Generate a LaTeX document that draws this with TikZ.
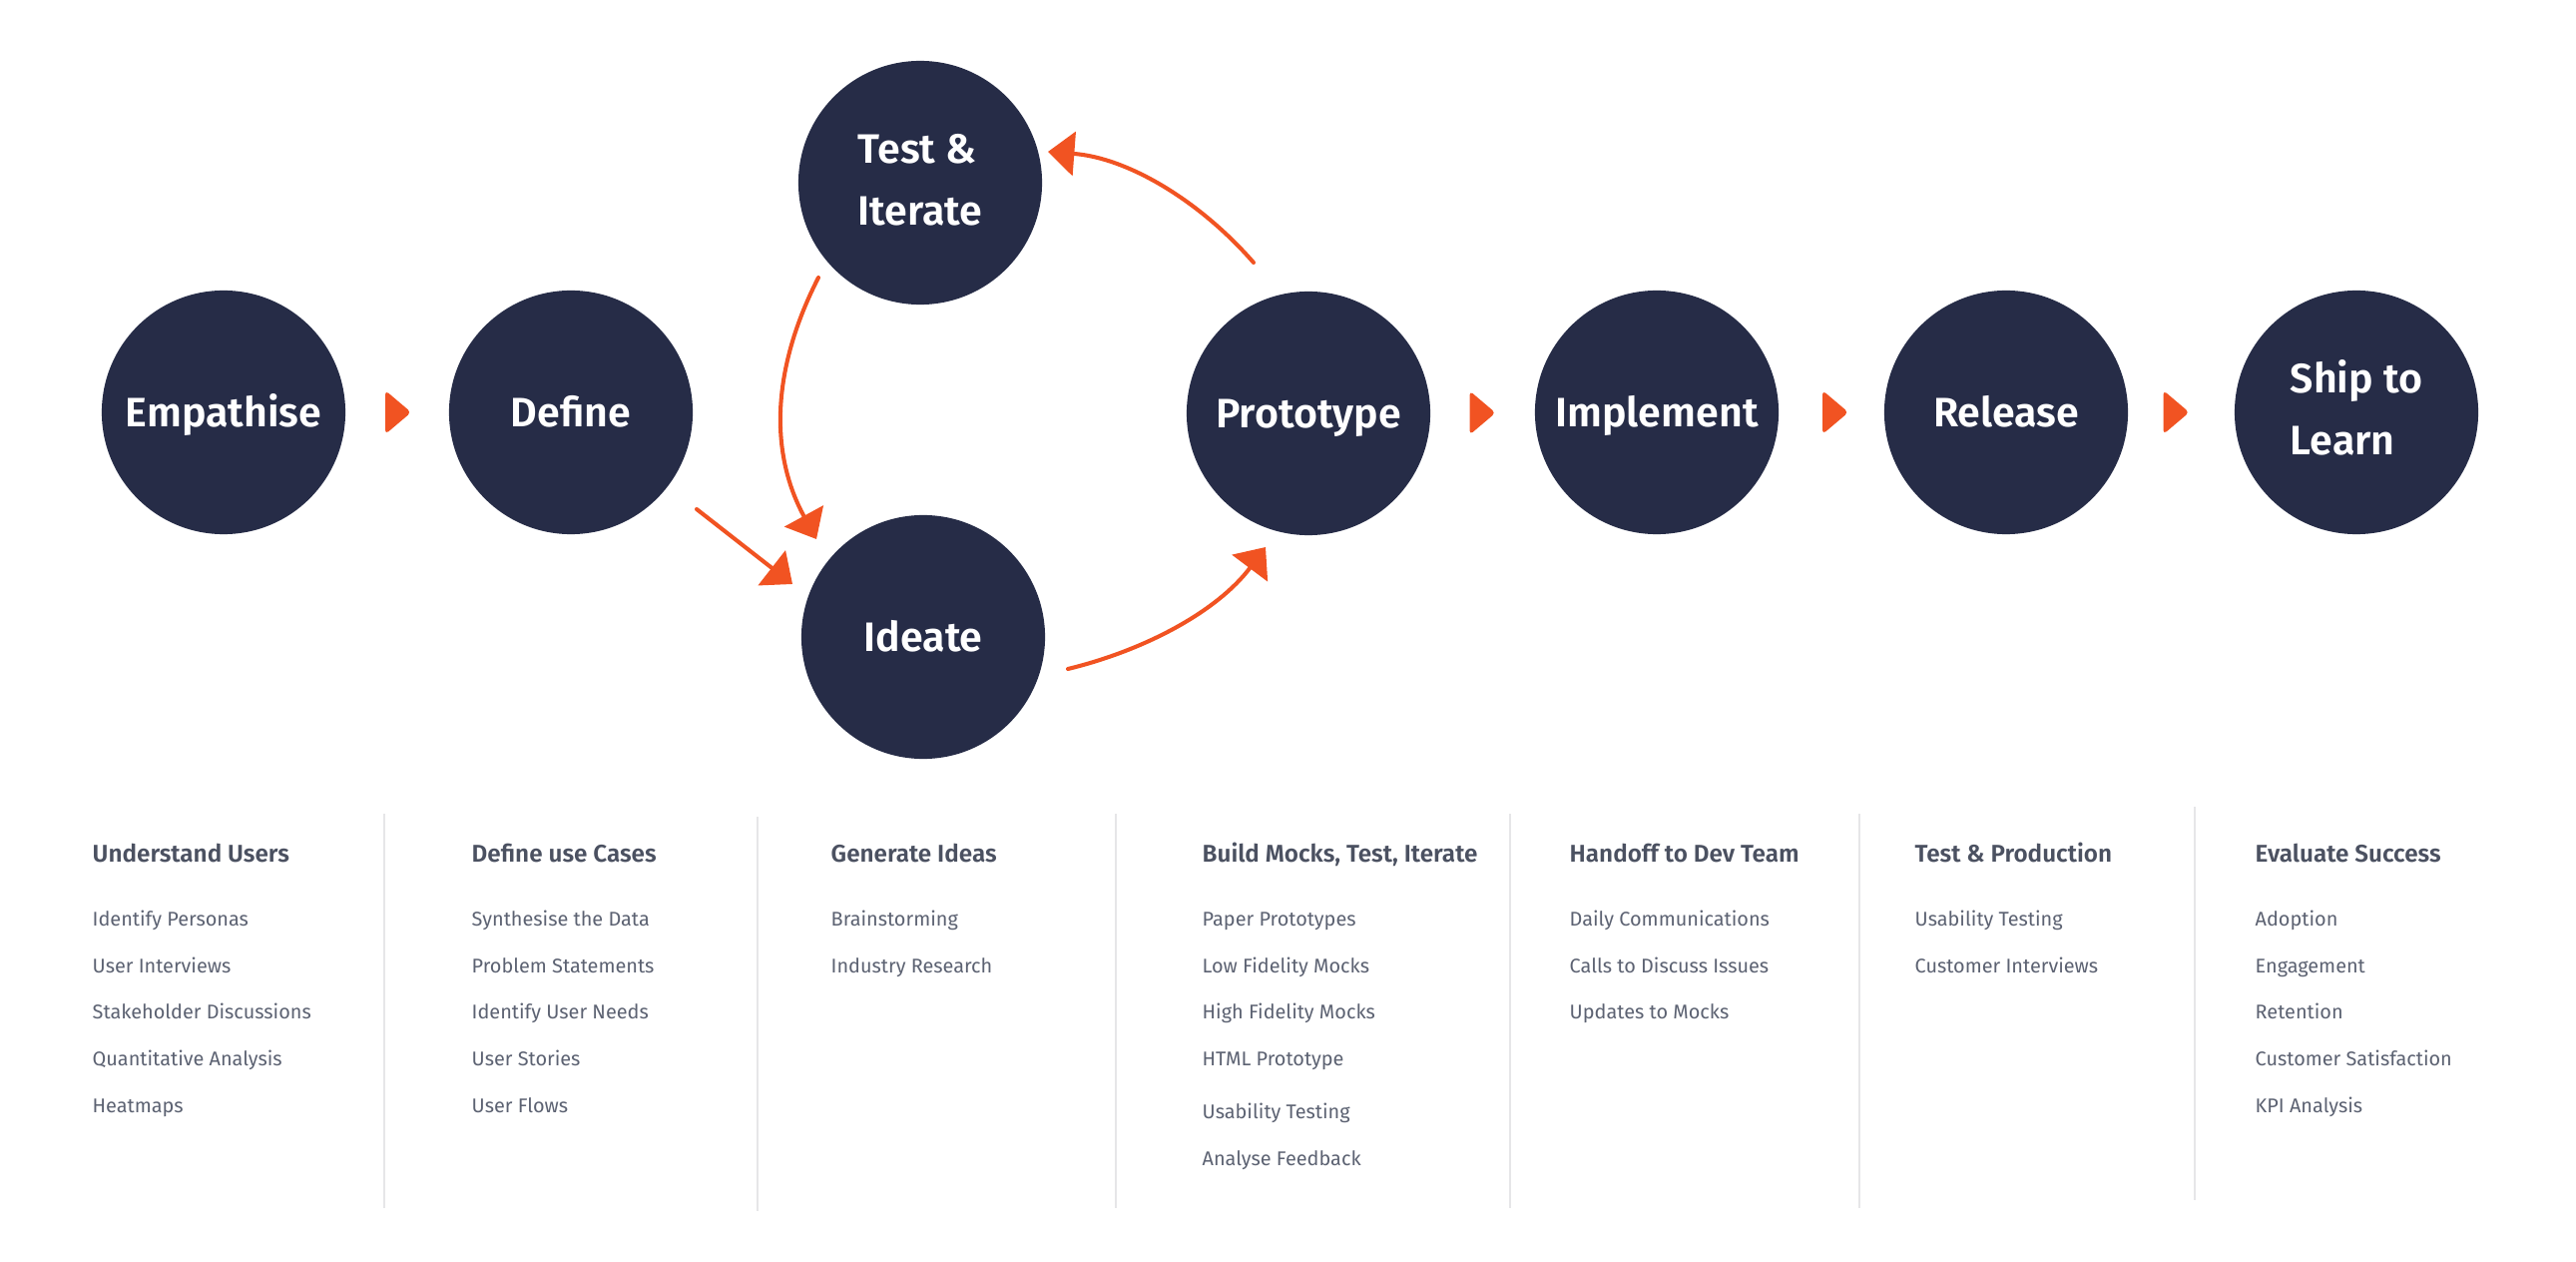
\documentclass[tikz,border=0pt]{standalone}
\usepackage{fontspec}
\setmainfont{Fira Sans}[BoldFont={Fira Sans SemiBold}]
\usetikzlibrary{arrows.meta,calc}
\definecolor{navy}{HTML}{262C47}
\definecolor{orng}{HTML}{F15322}
\definecolor{headc}{HTML}{4B5161}
\definecolor{itemc}{HTML}{5C6272}
\definecolor{sepc}{HTML}{E6E6E8}
\begin{document}
\begin{tikzpicture}[x=0.01cm,y=-0.01cm,
  stage/.style={circle, fill=navy, minimum size=2.44cm, inner sep=0pt, text=white,
    font=\bfseries\fontsize{11.7}{17.6}\selectfont, text height=8pt, text depth=0pt},
  stagetwo/.style={stage, align=left, text height=23.9pt, text depth=0pt},
  arr/.style={draw=orng, line width=1.15pt, line cap=round, -{Triangle[length=7.5pt,width=12.5pt]}},
  head/.style={anchor=base west, text=headc, font=\bfseries\fontsize{6.9}{8}\selectfont, inner sep=0pt},
  item/.style={anchor=base west, text=itemc, font=\fontsize{5.65}{6.5}\selectfont, inner sep=0pt},
  sep/.style={draw=sepc, line width=0.4pt},
  tri/.style={fill=orng, rounded corners=1.2pt}
]
\fill[white] (0,0) rectangle (2581,1264);
\useasboundingbox (0,0) rectangle (2581,1264);

% stages
\node[stage] (emp) at (224,413) {Empathise};
\node[stage] (def) at (572,413) {Define};
\node[stagetwo] (test) at (922,183) {Test \&\\Iterate};
\node[stage] (idea) at (925,638) {Ideate};
\node[stage] (proto) at (1311,414) {Prototype};
\node[stage] (impl) at (1660,413) {Implement};
\node[stage] (rel) at (2010,413) {Release};
\node[stagetwo] (ship) at (2361,413) {Ship to\\Learn};

% small triangles
\fill[tri] ($(emp)!0.5!(def)+(-12,-22)$) -- ++(26,22) -- ++(-26,22) -- cycle;
\fill[tri] ($(proto)!0.5!(impl)+(-13,-22)$) -- ++(26,22) -- ++(-26,22) -- cycle;
\fill[tri] ($(impl)!0.5!(rel)+(-9,-22)$) -- ++(26,22) -- ++(-26,22) -- cycle;
\fill[tri] ($(rel)!0.5!(ship)+(-18,-22)$) -- ++(26,22) -- ++(-26,22) -- cycle;

% connector end points
\coordinate (a1s) at ($(proto)+(-55,-151)$);
\coordinate (a1e) at ($(test)+(128,-31)$);
\coordinate (a2s) at ($(test)+(-102,95)$);
\coordinate (a2e) at ($(idea)+(-107,-98)$);
\coordinate (a3s) at ($(def)+(126,97)$);
\coordinate (a3e) at ($(idea)+(-131,-53)$);
\coordinate (a4s) at ($(idea)+(145,32)$);
\coordinate (a4e) at ($(proto)+(-43,134)$);

\draw[arr] (a1s) .. controls +(-54,-62) and +(80,6) .. (a1e);
\draw[arr] (a2s) .. controls +(-46,90) and +(-48,-88) .. (a2e);
\draw[arr] (a3s) -- (a3e);
\draw[arr] (a4s) .. controls +(78,-19) and +(-48,64) .. (a4e);

% separators
\draw[sep] (385,815) -- (385,1210);
\draw[sep] (759,818) -- (759,1213);
\draw[sep] (1118,815) -- (1118,1210);
\draw[sep] (1513,815) -- (1513,1210);
\draw[sep] (1863,815) -- (1863,1210);
\draw[sep] (2199,808) -- (2199,1202);

% column 1
\node[head] (h1) at (92,863) {Understand Users};
\node[item] (c1a) at (92,927) {Identify Personas};
\node[item] (c1b) at (92,974) {User Interviews};
\node[item] (c1c) at (92,1020) {Stakeholder Discussions};
\node[item] (c1d) at (92,1067) {Quantitative Analysis};
\node[item] (c1e) at (92,1114) {Heatmaps};
% column 2
\node[head] (h2) at (472,863) {Define use Cases};
\node[item] (c2a) at (472,927) {Synthesise the Data};
\node[item] (c2b) at (472,974) {Problem Statements};
\node[item] (c2c) at (472,1020) {Identify User Needs};
\node[item] (c2d) at (472,1067) {User Stories};
\node[item] (c2e) at (472,1114) {User Flows};
% column 3
\node[head] (h3) at (832,863) {Generate Ideas};
\node[item] (c3a) at (832,927) {Brainstorming};
\node[item] (c3b) at (832,974) {Industry Research};
% column 4
\node[head] (h4) at (1204,863) {Build Mocks, Test, Iterate};
\node[item] (c4a) at (1204,927) {Paper Prototypes};
\node[item] (c4b) at (1204,974) {Low Fidelity Mocks};
\node[item] (c4c) at (1204,1020) {High Fidelity Mocks};
\node[item] (c4d) at (1204,1067) {HTML Prototype};
\node[item] (c4e) at (1204,1120) {Usability Testing};
\node[item] (c4f) at (1204,1167) {Analyse Feedback};
% column 5
\node[head] (h5) at (1572,863) {Handoff to Dev Team};
\node[item] (c5a) at (1572,927) {Daily Communications};
\node[item] (c5b) at (1572,974) {Calls to Discuss Issues};
\node[item] (c5c) at (1572,1020) {Updates to Mocks};
% column 6
\node[head] (h6) at (1918,863) {Test \& Production};
\node[item] (c6a) at (1918,927) {Usability Testing};
\node[item] (c6b) at (1918,974) {Customer Interviews};
% column 7
\node[head] (h7) at (2259,863) {Evaluate Success};
\node[item] (c7a) at (2259,927) {Adoption};
\node[item] (c7b) at (2259,974) {Engagement};
\node[item] (c7c) at (2259,1020) {Retention};
\node[item] (c7d) at (2259,1067) {Customer Satisfaction};
\node[item] (c7e) at (2259,1114) {KPI Analysis};
\end{tikzpicture}
\end{document}
